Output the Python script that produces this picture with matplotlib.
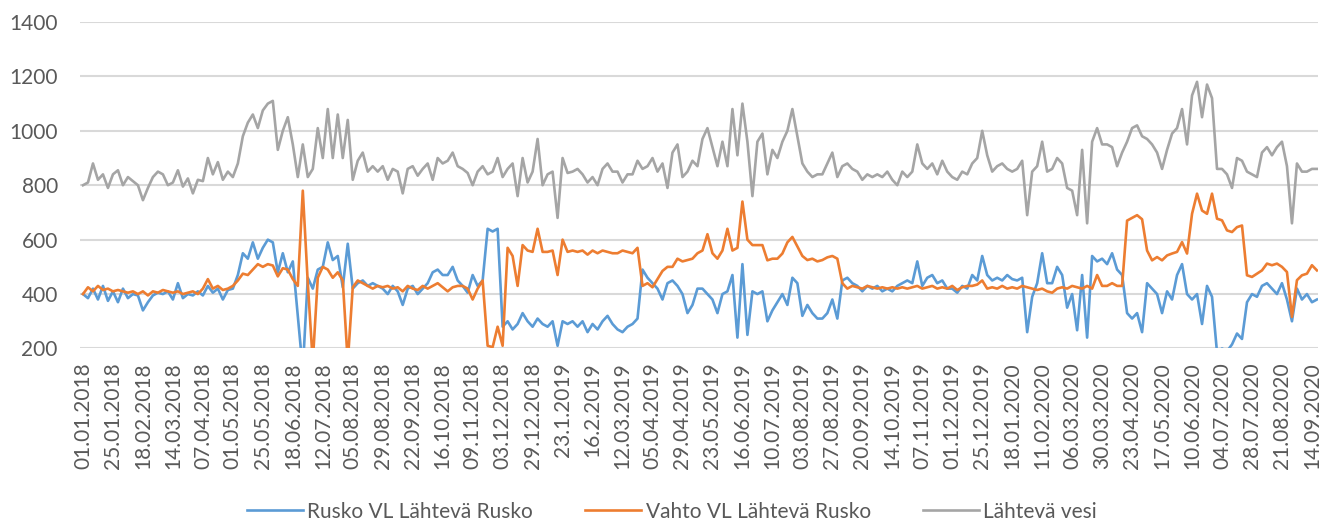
import numpy as np
import matplotlib.pyplot as plt

# kategoriat = paivat (0 = 01.01.2018), arvo luettu joka 4. paivalta
paiva = np.arange(0, 989, 4)

# Rusko VL Lähtevä Rusko
rusko = [400, 385, 420, 380, 430, 375, 410, 370, 420, 385, 400, 395, 340, 370, 395, 405, 400, 410,
         380, 440, 385, 400, 395, 410, 395, 430, 405, 420, 380, 415, 420, 470, 550, 530, 590, 530,
         570, 600, 590, 480, 550, 480, 520, 320, 120, 460, 420, 490, 500, 590, 525, 540, 425, 585,
         420, 440, 450, 430, 440, 430, 420, 400, 430, 410, 360, 420, 430, 400, 420, 440, 480,
         490, 470, 470, 500, 450, 430, 405, 470, 430, 450, 640, 630, 640, 280, 300, 270, 290, 330,
         300, 280, 310, 290, 280, 300, 210, 300, 290, 300, 280, 300, 260, 290, 270, 300, 320, 290,
         270, 260, 280, 290, 310, 490, 460, 440, 420, 380, 440, 450, 430, 400, 330, 360, 420, 420,
         400, 380, 330, 400, 410, 470, 240, 510, 250, 410, 400, 410, 300, 340, 370, 400, 360,
         460, 440, 320, 360, 330, 310, 310, 330, 380, 310, 450, 460, 440, 430, 410, 430, 420, 430,
         410, 420, 410, 430, 440, 450, 440, 520, 430, 460, 470, 440, 450, 420, 420, 405, 430, 420,
         470, 450, 540, 470, 450, 460, 450, 470, 455, 450, 460, 260, 390, 440, 550, 440, 440, 500,
         470, 350, 400, 267, 470, 240, 540, 520, 530, 510, 550, 490, 470, 330, 310, 330, 260,
         440, 420, 400, 330, 410, 380, 470, 510, 400, 380, 400, 290, 430, 390, 185, 200, 190, 215,
         255, 235, 370, 400, 390, 430, 440, 420, 400, 440, 380, 300, 420, 380, 400, 370, 380]

# Vahto VL Lähtevä Rusko
vahto = [400, 425, 410, 430, 415, 420, 410, 415, 410, 405, 410, 400, 410, 395, 410, 405, 415, 410,
         405, 410, 400, 405, 410, 400, 420, 455, 420, 430, 415, 420, 430, 450, 475, 470, 490, 510,
         500, 510, 505, 465, 495, 490, 455, 430, 780, 440, 150, 460, 500, 490, 460, 480, 450, 150,
         425, 450, 440, 430, 420, 430, 425, 430, 420, 425, 410, 430, 420, 415, 430, 420, 430,
         440, 425, 410, 425, 430, 430, 420, 380, 420, 450, 210, 205, 280, 210, 570, 540, 430, 580,
         560, 555, 640, 555, 555, 560, 470, 600, 555, 560, 555, 560, 545, 560, 550, 560, 555, 550,
         550, 560, 555, 550, 570, 430, 440, 425, 455, 485, 500, 500, 530, 520, 525, 530, 550, 560,
         620, 550, 530, 560, 640, 560, 570, 740, 600, 580, 580, 580, 524, 530, 530, 549, 590,
         610, 575, 540, 525, 530, 520, 525, 535, 540, 530, 440, 420, 430, 425, 420, 430, 425, 420,
         425, 420, 425, 420, 425, 420, 425, 430, 420, 425, 430, 420, 425, 420, 430, 415, 425, 430,
         430, 435, 450, 420, 425, 420, 430, 420, 425, 420, 430, 425, 420, 415, 420, 410, 405, 420,
         425, 420, 430, 425, 420, 430, 420, 470, 430, 430, 440, 430, 430, 670, 680, 690, 675,
         560, 524, 536, 524, 542, 549, 555, 591, 549, 695, 769, 707, 695, 769, 677, 671, 634, 628,
         646, 652, 469, 463, 475, 487, 512, 506, 512, 500, 481, 316, 451, 469, 475, 506, 487]

# Lähtevä vesi
lahteva = [800, 810, 880, 820, 840, 790, 840, 855, 800, 830, 815, 800, 745, 790, 830, 850, 840, 800,
           810, 855, 795, 825, 770, 820, 815, 900, 840, 885, 820, 850, 830, 880, 980, 1030, 1060, 1010,
           1075, 1100, 1110, 930, 1000, 1050, 950, 830, 950, 830, 860, 1010, 900, 1080, 900, 1060, 900, 1040,
           820, 890, 920, 850, 870, 850, 870, 820, 860, 850, 770, 860, 870, 835, 860, 880, 820,
           900, 880, 890, 920, 870, 860, 845, 800, 850, 870, 840, 850, 900, 830, 860, 880, 760, 900,
           810, 850, 970, 800, 840, 850, 680, 900, 845, 850, 860, 840, 810, 830, 800, 860, 880, 850,
           850, 810, 840, 840, 890, 860, 870, 900, 850, 880, 790, 920, 950, 830, 850, 890, 870, 970,
           1010, 940, 870, 960, 870, 1080, 910, 1100, 960, 760, 960, 990, 840, 930, 900, 960, 1000,
           1080, 980, 880, 850, 830, 840, 840, 880, 920, 830, 870, 880, 860, 850, 820, 840, 830, 840,
           830, 850, 820, 800, 850, 830, 850, 950, 880, 860, 880, 840, 890, 850, 830, 820, 850, 840,
           880, 900, 1000, 910, 850, 870, 880, 860, 850, 860, 890, 690, 850, 870, 960, 850, 860, 900,
           880, 790, 780, 690, 930, 660, 960, 1010, 950, 950, 940, 870, 920, 960, 1010, 1020, 980,
           970, 950, 920, 860, 930, 990, 1010, 1080, 950, 1130, 1180, 1050, 1170, 1120, 860, 860, 840, 790,
           900, 890, 850, 840, 830, 920, 940, 910, 940, 960, 870, 660, 880, 850, 850, 860, 860]

# x-akselin tekstit (joka 24. kategoria)
pvm = ['01.01.2018', '25.01.2018', '18.02.2018', '14.03.2018', '07.04.2018', '01.05.2018',
       '25.05.2018', '18.06.2018', '12.07.2018', '05.08.2018', '29.08.2018', '22.09.2018',
       '16.10.2018', '09.11.2018', '03.12.2018', '29.12.2018', '23.1.2019', '16.2.2019',
       '12.03.2019', '05.04.2019', '29.04.2019', '23.05.2019', '16.06.2019', '10.07.2019',
       '03.08.2019', '27.08.2019', '20.09.2019', '14.10.2019', '07.11.2019', '01.12.2019',
       '25.12.2019', '18.01.2020', '11.02.2020', '06.03.2020', '30.03.2020', '23.04.2020',
       '17.05.2020', '10.06.2020', '04.07.2020', '28.07.2020', '21.08.2020', '14.09.2020']

plt.rcParams['font.family'] = ['Lato', 'DejaVu Sans']

fig = plt.figure(figsize=(13.33, 5.22), dpi=100)
ax = fig.add_axes([0.060, 0.3324, 0.9287, 0.6255])

ax.plot(paiva, rusko, color='#5B9BD5', lw=1.9, solid_joinstyle='round', label='Rusko VL Lähtevä Rusko')
ax.plot(paiva, vahto, color='#ED7D31', lw=1.9, solid_joinstyle='round', label='Vahto VL Lähtevä Rusko')
ax.plot(paiva, lahteva, color='#A5A5A5', lw=1.9, solid_joinstyle='round', label='Lähtevä vesi')

ax.set_ylim(200, 1400)
ax.set_yticks(range(200, 1401, 200))
ax.set_xlim(-2.4, 988.8)
ax.set_xticks(range(0, 985, 24))
ax.set_xticklabels(pvm, rotation=90)

ax.grid(axis='y', color='#D9D9D9', lw=1.5)
ax.set_axisbelow(True)
for s in ax.spines.values():
    s.set_visible(False)
ax.tick_params(length=0, labelsize=15, colors='#595959')
ax.tick_params(axis='y', pad=16)
ax.tick_params(axis='x', pad=10)

fig.legend(loc='center', bbox_to_anchor=(0.504, 0.02), ncol=3, frameon=False, fontsize=15,
           handlelength=2.7, handletextpad=0.2, columnspacing=2.5, labelcolor='#595959')

fig.savefig('out.png', dpi=100)
